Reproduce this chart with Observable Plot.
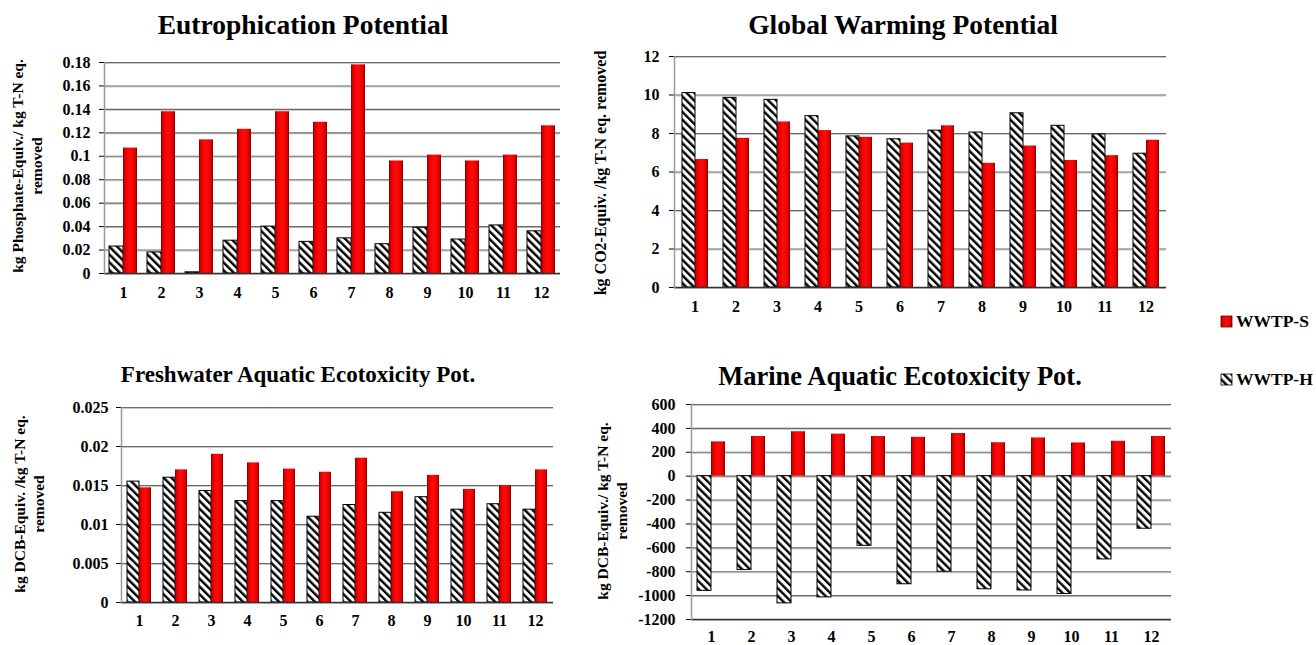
<!DOCTYPE html>
<html><head><meta charset="utf-8">
<script src="https://cdn.jsdelivr.net/npm/d3@7"></script>
<script src="https://cdn.jsdelivr.net/npm/@observablehq/plot@0.6"></script>
<style>
body{margin:0;background:#fff;}
#root{position:relative;width:1316px;height:645px;overflow:hidden;font-family:"Liberation Serif","Times New Roman",serif;background:#fff;}
.panel{position:absolute;}
#overlay{position:absolute;left:0;top:0;pointer-events:none;}
</style></head><body>
<svg width="0" height="0" style="position:absolute">
  <defs>
    <pattern id="hatch" patternUnits="userSpaceOnUse" width="5.5" height="5.5" patternTransform="rotate(-45)">
      <rect width="5.5" height="5.5" fill="#fff"/>
      <rect width="2.4" height="5.5" fill="#000"/>
    </pattern>
    <linearGradient id="redGrad" x1="0" x2="1" y1="0" y2="0">
      <stop offset="0" stop-color="#7a0000"/>
      <stop offset="0.15" stop-color="#e60000"/>
      <stop offset="0.5" stop-color="#ff0a0a"/>
      <stop offset="0.85" stop-color="#e60000"/>
      <stop offset="1" stop-color="#7a0000"/>
    </linearGradient>
  </defs>
</svg>
<div id="root"></div>
<script>
const categories = ["1","2","3","4","5","6","7","8","9","10","11","12"];
const seriesNames = ["WWTP-S", "WWTP-H"];

const titles = ["Eutrophication Potential", "Global Warming Potential", "Freshwater Aquatic Ecotoxicity Pot.", "Marine Aquatic Ecotoxicity Pot."];

// Eutrophication Potential
const eutroH = [0.023, 0.018, 0.001, 0.028, 0.040, 0.027, 0.030, 0.025, 0.039, 0.029, 0.041, 0.036];
const eutroS = [0.107, 0.138, 0.114, 0.123, 0.138, 0.129, 0.178, 0.096, 0.101, 0.096, 0.101, 0.126];
const eutroTicks = [0, 0.02, 0.04, 0.06, 0.08, 0.1, 0.12, 0.14, 0.16, 0.18];

// Global Warming Potential
const gwpH = [10.1, 9.85, 9.75, 8.9, 7.85, 7.7, 8.15, 8.05, 9.05, 8.4, 7.95, 6.95];
const gwpS = [6.65, 7.75, 8.6, 8.15, 7.8, 7.5, 8.4, 6.45, 7.35, 6.6, 6.85, 7.65];
const gwpTicks = [0, 2, 4, 6, 8, 10, 12];

// Freshwater Aquatic Ecotoxicity
const faetpH = [0.0155, 0.0160, 0.0143, 0.0130, 0.0130, 0.0110, 0.0125, 0.0115, 0.0135, 0.0119, 0.0126, 0.0119];
const faetpS = [0.0147, 0.0170, 0.0190, 0.0179, 0.0171, 0.0167, 0.0185, 0.0142, 0.0163, 0.0145, 0.0150, 0.0170];
const faetpTicks = [0, 0.005, 0.01, 0.015, 0.02, 0.025];

// Marine Aquatic Ecotoxicity
const maetpH = [-960, -785, -1065, -1015, -583, -905, -800, -947, -957, -986, -697, -440];
const maetpS = [287, 332, 372, 352, 332, 325, 357, 280, 320, 278, 292, 332];
const maetpTicks = [-1200, -1000, -800, -600, -400, -200, 0, 200, 400, 600];

const yTitles = [
  ["kg Phosphate-Equiv./ kg T-N eq.", "removed"],
  ["kg CO2-Equiv. /kg T-N eq. removed"],
  ["kg DCB-Equiv. /kg T-N eq.", "removed"],
  ["kg DCB-Equiv./ kg T-N eq.", "removed"]
];

const FONT = '"Liberation Serif", "Times New Roman", serif';
const root = document.getElementById("root");

function makePanel(cfg) {
  const rows = categories.flatMap((c, i) => [
    {cat: c, s: seriesNames[1], v: cfg.hv[i]},
    {cat: c, s: seriesNames[0], v: cfg.sv[i]}
  ]);
  const plot = Plot.plot({
    width: cfg.w, height: cfg.h,
    marginLeft: cfg.ml, marginRight: cfg.mr, marginTop: cfg.mt, marginBottom: cfg.mb,
    style: {fontFamily: FONT, fontWeight: "bold", fontSize: "16px", color: "#000", background: "none", overflow: "visible"},
    fx: {domain: categories, padding: 0, axis: "bottom", tickSize: 0, tickPadding: cfg.xPad, label: null},
    x: {domain: [seriesNames[1], seriesNames[0]], axis: null, paddingInner: 0, paddingOuter: cfg.pad},
    y: {domain: [cfg.ticks[0], cfg.ticks[cfg.ticks.length - 1]], ticks: cfg.ticks, tickFormat: cfg.fmt, tickSize: 5, tickPadding: cfg.yPad, label: null},
    marks: [
      Plot.ruleY(cfg.ticks, {stroke: "#c8c8c8", strokeWidth: 1, dy: 1}),
      Plot.ruleY(cfg.ticks, {stroke: "#6a6a6a", strokeWidth: 1.1}),
      Plot.barY(rows.filter(d => d.s === seriesNames[1]), {fx: "cat", x: "s", y: "v", fill: "url(#hatch)", stroke: "#000", strokeWidth: 1}),
      Plot.barY(rows.filter(d => d.s === seriesNames[0]), {fx: "cat", x: "s", y: "v", fill: "url(#redGrad)"}),
      Plot.ruleY([cfg.base], {stroke: "#333", strokeWidth: 1.3}),
      Plot.frame({anchor: "left", facetAnchor: "left", stroke: "#999", strokeWidth: 1.5})
    ]
  });
  const div = document.createElement("div");
  div.className = "panel";
  div.style.left = cfg.left + "px";
  div.style.top = cfg.top + "px";
  div.appendChild(plot);
  root.appendChild(div);
}

const fmtDec = d => String(+d.toFixed(4));
const fmtInt = d => String(d);

makePanel({hv: eutroH, sv: eutroS, ticks: eutroTicks, fmt: fmtDec, base: 0,
  left: 0, top: 0, w: 600, h: 320, ml: 103, mr: 39, mt: 62, mb: 47, pad: 0.28, xPad: 13, yPad: 9});
makePanel({hv: gwpH, sv: gwpS, ticks: gwpTicks, fmt: fmtInt, base: 0,
  left: 590, top: 0, w: 600, h: 330, ml: 82, mr: 22, mt: 56, mb: 43, pad: 0.5, xPad: 13, yPad: 10});
makePanel({hv: faetpH, sv: faetpS, ticks: faetpTicks, fmt: fmtDec, base: 0,
  left: 0, top: 350, w: 600, h: 295, ml: 115, mr: 42, mt: 57, mb: 43, pad: 0.43, xPad: 12, yPad: 8});
makePanel({hv: maetpH, sv: maetpS, ticks: maetpTicks, fmt: fmtInt, base: -1200,
  left: 590, top: 350, w: 600, h: 295, ml: 101, mr: 19, mt: 54, mb: 26, pad: 0.35, xPad: 11, yPad: 11});

// overlay: titles, axis titles, legend
const ov = d3.select(root).append("svg").attr("id", "overlay").attr("width", 1316).attr("height", 645)
  .style("font-family", FONT).style("font-weight", "bold");

const titlePos = [[303, 34, 27.5], [903, 34, 27.5], [298, 382, 23], [900, 385, 26.5]];
titles.forEach((t, i) => {
  ov.append("text").attr("x", titlePos[i][0]).attr("y", titlePos[i][1]).attr("text-anchor", "middle")
    .attr("font-size", titlePos[i][2]).text(t);
});

const yTitlePos = [
  {xs: [23, 42], y: 166, fs: 15.5},
  {xs: [606], y: 173, fs: 16},
  {xs: [25, 44], y: 504, fs: 15.5},
  {xs: [608, 627], y: 511, fs: 15.5}
];
yTitles.forEach((lines, i) => {
  const p = yTitlePos[i];
  lines.forEach((line, j) => {
    ov.append("text").attr("transform", `translate(${p.xs[j]},${p.y}) rotate(-90)`)
      .attr("text-anchor", "middle").attr("font-size", p.fs).text(line);
  });
});

const legendItems = [
  {name: seriesNames[0], fill: "url(#redGrad)", stroke: "#600", y: 316},
  {name: seriesNames[1], fill: "url(#hatch)", stroke: "#000", y: 374}
];
legendItems.forEach(it => {
  ov.append("rect").attr("x", 1221).attr("y", it.y).attr("width", 11).attr("height", 11)
    .attr("fill", it.fill).attr("stroke", it.stroke).attr("stroke-width", 0.8);
  ov.append("text").attr("x", 1236).attr("y", it.y + 11).attr("font-size", 17.5).text(it.name);
});
</script>
</body></html>
